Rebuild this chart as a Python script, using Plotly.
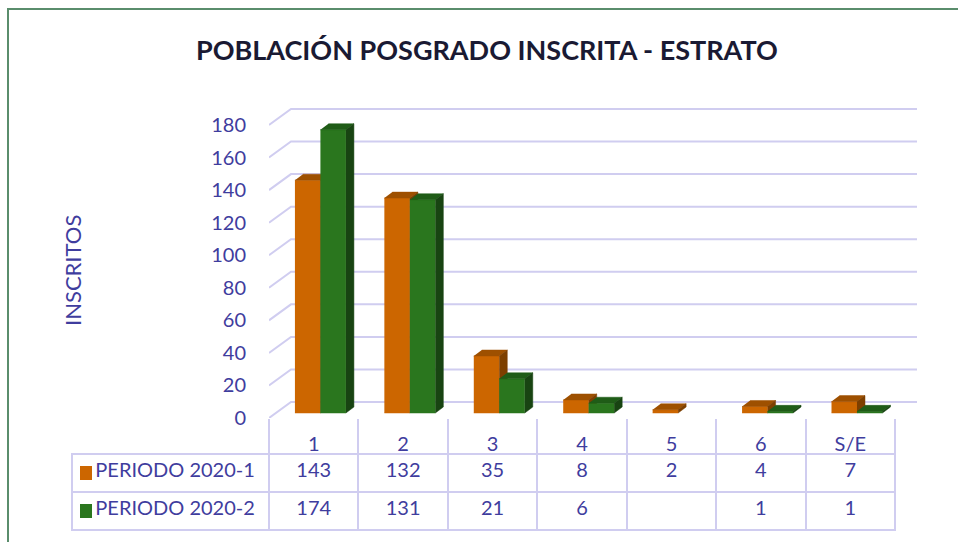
import plotly.graph_objects as go

# datos
categorias = ["1", "2", "3", "4", "5", "6", "S/E"]
series = ["PERIODO 2020-1", "PERIODO 2020-2"]
periodo_1 = [143, 132, 35, 8, 2, 4, 7]
periodo_2 = [174, 131, 21, 6, None, 1, 1]
y_ticks = [0, 20, 40, 60, 80, 100, 120, 140, 160, 180]

W, H = 958, 542
TXT = "#3F3D9E"
LAV = "#D0CDF0"
colores = {
    "PERIODO 2020-1": ("#CC6600", "#9E5000", "#7D3F00"),
    "PERIODO 2020-2": ("#2A761E", "#1F5C17", "#184412"),
}

# geometria (pixeles de la ventana)
PX_CAT = (895 - 269) / 7
PX_VAL = 1.628
x_left, y_floor, plot_top = 269, 418, 100
WALL_DX, WALL_DY = 22 / PX_CAT, 16 / PX_VAL
BASE = 5 / PX_VAL
DX, DY = 8 / PX_CAT, 6 / PX_VAL
BAR_W = 0.285
offsets = [-0.21, 0.075]
ROW_Y = [473, 511]


def fx(px):
    return px / W


def fy(py):
    return 1 - py / H


def caras(vals, off):
    fr = ([], [])
    tp = ([], [])
    sd = ([], [])
    for i, v in enumerate(vals):
        if v is None:
            continue
        x0 = i + off
        x1 = x0 + BAR_W
        y0, y1 = BASE, BASE + v
        fr[0].extend([x0, x1, x1, x0, None]); fr[1].extend([y0, y0, y1, y1, None])
        tp[0].extend([x0, x1, x1 + DX, x0 + DX, None]); tp[1].extend([y1, y1, y1 + DY, y1 + DY, None])
        sd[0].extend([x1, x1 + DX, x1 + DX, x1, None]); sd[1].extend([y0, y0 + DY, y1 + DY, y1, None])
    return fr, tp, sd


fig = go.Figure()

# pared del fondo: lineas de division
gx, gy = [], []
x_right = len(categorias) - 0.5 + WALL_DX
for t in y_ticks:
    gx.extend([-0.5, -0.5 + WALL_DX, x_right, None])
    gy.extend([t, t + WALL_DY, t + WALL_DY, None])
fig.add_trace(go.Scatter(x=gx, y=gy, mode="lines", line=dict(color=LAV, width=2),
                         hoverinfo="skip", showlegend=False))

for nombre, vals, off in zip(series, [periodo_1, periodo_2], offsets):
    c_front, c_top, c_side = colores[nombre]
    for (xs, ys), c in zip(caras(vals, off), [c_front, c_top, c_side]):
        fig.add_trace(go.Scatter(x=xs, y=ys, mode="lines", fill="toself", fillcolor=c,
                                 line=dict(color=c, width=0.5), hoverinfo="skip",
                                 showlegend=False, name=nombre))


# tabla de datos
def fila(nombre, vals):
    return ["\u00a0\u00a0\u00a0" + nombre] + ["" if v is None else str(v) for v in vals]


f1 = fila(series[0], periodo_1)
f2 = fila(series[1], periodo_2)
estilo = dict(align=["left"] + ["center"] * 7, height=38,
              line=dict(color=LAV, width=2), fill=dict(color="white"),
              font=dict(family="Lato", size=20, color=TXT))
fig.add_trace(go.Table(
    domain=dict(x=[fx(72), fx(895)], y=[fy(531), fy(454)]),
    columnwidth=[197] + [PX_CAT] * len(categorias),
    header=dict(values=f1, **estilo),
    cells=dict(values=[[v] for v in f2], **estilo),
))

anotaciones = [
    dict(text="<b>POBLACIÓN POSGRADO INSCRITA - ESTRATO</b>", x=fx(487), y=fy(50),
         xref="paper", yref="paper", showarrow=False, xanchor="center", yanchor="middle",
         font=dict(family="Lato", size=27, color="#1A1A33")),
    dict(text="INSCRITOS", x=fx(72), y=fy(271), xref="paper", yref="paper",
         showarrow=False, textangle=-90, xanchor="center", yanchor="middle",
         font=dict(family="Lato", size=22, color=TXT)),
]
formas = [dict(type="rect", xref="paper", yref="paper", x0=fx(8), x1=1.05, y0=-0.05, y1=fy(9),
               line=dict(color="#5A8D6C", width=2), layer="below")]
# cuadros de leyenda dentro de la tabla
for nombre, yy in zip(series, ROW_Y):
    formas.append(dict(type="rect", xref="paper", yref="paper",
                       x0=fx(80), x1=fx(92), y0=fy(yy + 7), y1=fy(yy - 7),
                       line=dict(width=0), fillcolor=colores[nombre][0]))

fig.update_layout(
    template="none",
    width=W, height=H,
    margin=dict(l=0, r=0, t=0, b=0, pad=0),
    paper_bgcolor="white", plot_bgcolor="rgba(0,0,0,0)",
    font=dict(family="Lato", color=TXT),
    showlegend=False,
    xaxis=dict(
        domain=[fx(x_left), fx(895 + 22)], automargin=False,
        range=[-0.5, x_right],
        tickmode="array", tickvals=list(range(len(categorias))), ticktext=categorias,
        ticks="", showgrid=False, zeroline=False, showline=False,
        ticklabelstandoff=12, tickfont=dict(size=20, color=TXT),
        minor=dict(tickvals=[i - 0.5 for i in range(len(categorias) + 1)], ticks="outside",
                   ticklen=37, tickwidth=2, tickcolor=LAV, showgrid=False),
    ),
    yaxis=dict(
        domain=[fy(y_floor), fy(plot_top)], automargin=False,
        range=[0, (y_floor - plot_top) / PX_VAL],
        tickmode="array", tickvals=y_ticks,
        ticks="", showgrid=False, zeroline=False, showline=False,
        ticklabelstandoff=22, tickfont=dict(size=20, color=TXT),
    ),
    annotations=anotaciones,
    shapes=formas,
)

fig.write_html("out.html", config={"displayModeBar": False},
               post_script="document.body.style.margin='0px';")
